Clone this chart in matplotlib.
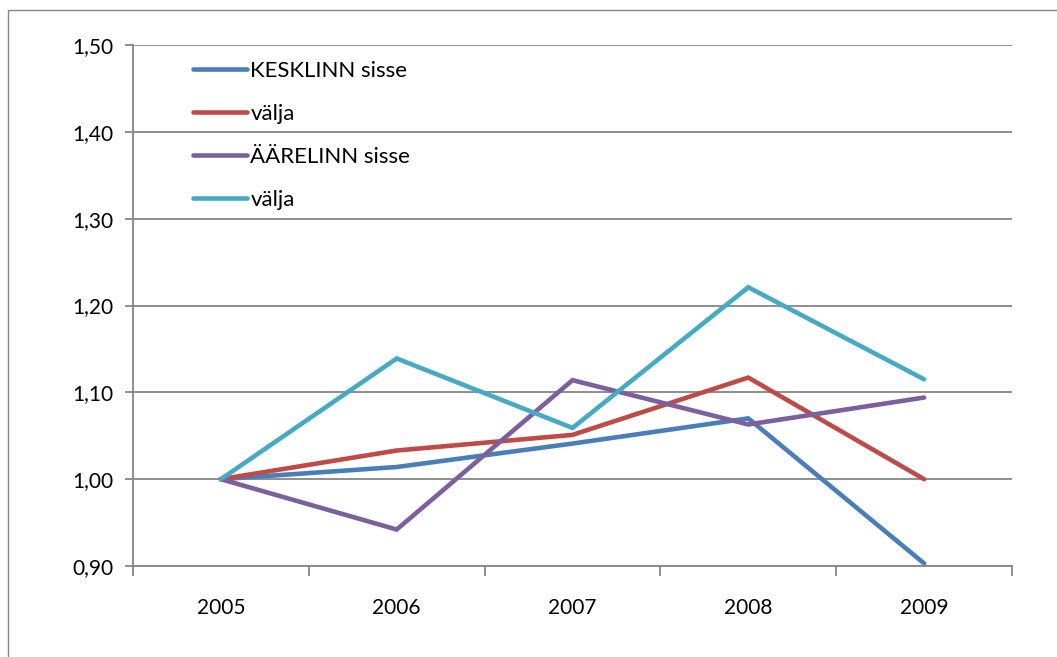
import matplotlib.pyplot as plt
from matplotlib.patches import Rectangle
from matplotlib.ticker import FixedLocator, FuncFormatter

plt.rcParams['font.family'] = ['Lato', 'DejaVu Sans']

years = ["2005", "2006", "2007", "2008", "2009"]
kesklinn_sisse = [1.000, 1.014, 1.041, 1.070, 0.903]
kesklinn_valja = [1.000, 1.033, 1.051, 1.117, 1.000]
aarelinn_sisse = [1.000, 0.942, 1.114, 1.063, 1.094]
aarelinn_valja = [1.000, 1.139, 1.059, 1.221, 1.115]

series = [
    ("KESKLINN sisse", kesklinn_sisse, "#4A7EBB"),
    ("välja", kesklinn_valja, "#BE4B48"),
    ("ÄÄRELINN sisse", aarelinn_sisse, "#7D5FA0"),
    ("välja", aarelinn_valja, "#46AAC4"),
]

GRID = "#868686"

fig = plt.figure(figsize=(10.57, 6.57), dpi=100)
# outer chart frame, only its top and left edges fall inside the image
fig.patches.append(Rectangle((8 / 1057, -0.1), 1.2, 1 - 10 / 657 + 0.1,
                             transform=fig.transFigure, fill=False,
                             edgecolor=GRID, linewidth=1.0))

ax = fig.add_axes([133 / 1057, 1 - 566 / 657, (1012 - 133) / 1057, (566 - 45) / 657])

x = list(range(len(years)))
for label, values, color in series:
    ax.plot(x, values, color=color, linewidth=3.3, label=label,
            solid_capstyle="round", solid_joinstyle="miter")

ax.set_xlim(-0.5, len(years) - 0.5)
ax.set_ylim(0.9, 1.5)

yticks = [0.9, 1.0, 1.1, 1.2, 1.3, 1.4, 1.5]
ax.yaxis.set_major_locator(FixedLocator(yticks))
ax.yaxis.set_major_formatter(FuncFormatter(lambda v, _: f"{v:.2f}".replace(".", ",")))
ax.grid(axis="y", color=GRID, linewidth=1.3)
ax.set_axisbelow(True)

ax.set_xticks(x)
ax.set_xticklabels(years)
ax.set_xticks([i - 0.5 for i in range(len(years) + 1)], minor=True)
ax.tick_params(axis="x", which="major", length=0, pad=23, labelsize=15)
ax.tick_params(axis="x", which="minor", length=7, width=1.3, color=GRID)
ax.tick_params(axis="y", length=6, width=1.3, color=GRID, pad=8, labelsize=15)

for side in ("top", "right"):
    ax.spines[side].set_visible(False)
for side in ("left", "bottom"):
    ax.spines[side].set_color(GRID)
    ax.spines[side].set_linewidth(1.3)

ax.legend(loc="upper left", bbox_to_anchor=(0.068, 0.969), frameon=False,
          fontsize=16, handlelength=2.45, handletextpad=0.14, labelspacing=1.03,
          borderaxespad=0, borderpad=0)

fig.savefig("out.png", dpi=100)
